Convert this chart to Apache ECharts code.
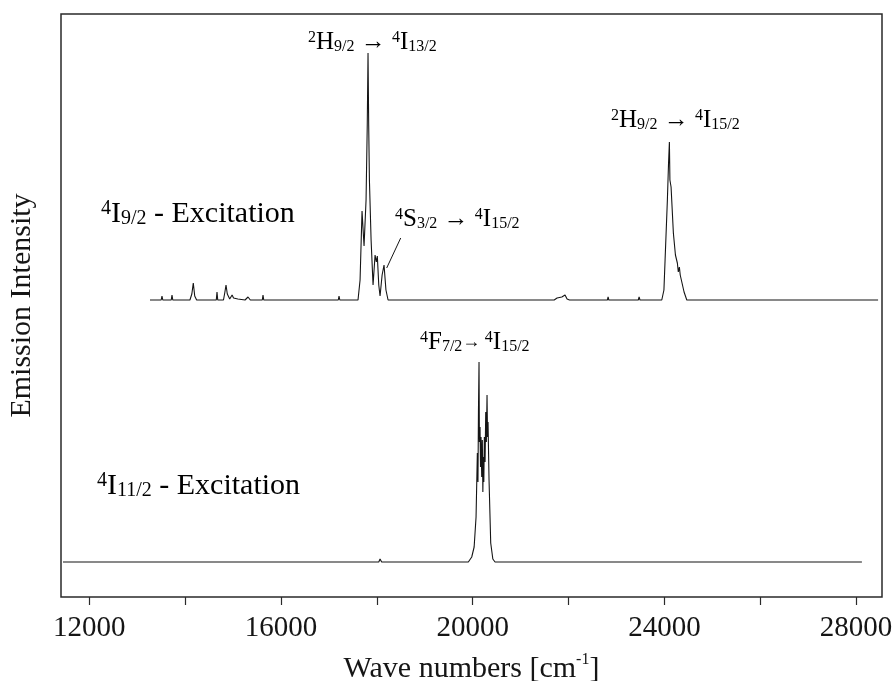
<!DOCTYPE html>
<html>
<head>
<meta charset="utf-8">
<script src="https://cdn.jsdelivr.net/npm/echarts@6/dist/echarts.min.js"></script>
<style>
  html, body { margin: 0; padding: 0; background: #fff; }
  #chart { width: 895px; height: 681px; }
</style>
</head>
<body>
<div id="chart"></div>
<script>
// 上面一条：4I9/2 激发 (波数 cm-1, 相对基线的强度)
const upperWn = [13267, 13500, 13517, 13534, 13710, 13726, 13742, 14100, 14140, 14170, 14200, 14240,
  14650, 14665, 14680, 14800, 14830, 14853, 14880, 14930, 14980, 15010, 15040, 15100, 15250, 15312, 15360,
  15610, 15625, 15640, 17195, 17211, 17227, 17500, 17607, 17650, 17691, 17733, 17775, 17800, 17816, 17830,
  17845, 17880, 17921, 17963, 17990, 18010, 18040, 18067, 18110, 18150, 18190, 18234, 18420, 18441, 18460,
  21700, 21760, 21860, 21927, 21969, 22020, 22810, 22825, 22840, 23455, 23472, 23490, 23945, 23990, 24014,
  24062, 24085, 24104, 24115, 24139, 24187, 24230, 24270, 24290, 24312, 24330, 24362, 24410, 24467, 28458];
const upperInt = [0, 0, 4, 0, 0, 5, 0, 0, 6, 17, 4, 0,
  0, 8, 0, 0, 8, 15, 6, 1, 5, 2, 4, 1, 0, 3, 0,
  0, 5, 0, 0, 4, 0, 0, 0, 20, 89, 54, 100, 175, 247, 175,
  120, 60, 15, 45, 38, 44, 15, 4, 25, 35, 10, 0, 0, 2, 0,
  0, 2, 3, 5, 1, 0, 0, 3, 0, 0, 3, 0, 0, 10, 40,
  100, 135, 158, 120, 113, 67, 45, 37, 28, 33, 25, 23, 8, 0, 0];

// 下面一条：4I11/2 激发
const lowerWn = [11451, 14920, 14936, 14960, 17150, 17169, 17190, 18040, 18067, 18100, 19909, 19980, 20030,
  20070, 20097, 20110, 20120, 20132, 20140, 20153, 20163, 20174, 20188, 20201, 20212, 20222, 20232, 20243,
  20258, 20272, 20285, 20299, 20310, 20320, 20341, 20376, 20420, 20466, 28121];
const lowerInt = [0, 0, 1, 0, 0, 1, 0, 0, 3, 0, 0, 5, 15,
  45, 109, 80, 150, 200, 120, 135, 95, 125, 85, 122, 70, 105, 80, 125,
  100, 150, 120, 167, 125, 140, 82, 19, 3, 0, 0];

const xTicks = [12000, 14000, 16000, 18000, 20000, 22000, 24000, 26000, 28000];
const xLabels = [12000, 16000, 20000, 24000, 28000];

// 两条谱线的垂直偏移
const UPPER_BASE = 297;
const LOWER_BASE = 35;

const FONT = 'Liberation Serif';
const INK = '#151515';

const chart = echarts.init(document.getElementById('chart'));

// 上下标富文本样式
function richStyle(base, small) {
  return {
    b: { fontFamily: FONT, fontSize: base, lineHeight: base, color: INK, verticalAlign: 'middle' },
    s: { fontFamily: FONT, fontSize: small, lineHeight: small * 1.45, color: INK, verticalAlign: 'top' },
    d: { fontFamily: FONT, fontSize: small, lineHeight: small * 1.3, color: INK, verticalAlign: 'bottom' },
    a: { fontFamily: FONT, fontSize: small + 2, lineHeight: base, color: INK, verticalAlign: 'middle' }
  };
}

function label(left, top, text, base, small) {
  return {
    type: 'text',
    left: left,
    top: top,
    style: { text: text, rich: richStyle(base, small) }
  };
}

const option = {
  animation: false,
  backgroundColor: '#fff',
  grid: {
    left: 61, right: 13, top: 14, bottom: 84,
    outerBoundsMode: 'none',
    show: true,
    borderColor: '#2a2a2a',
    borderWidth: 1.5
  },
  xAxis: {
    type: 'value',
    min: 11410,
    max: 28540,
    name: '{n|Wave numbers [cm}{u|-1}{n|]}',
    nameLocation: 'middle',
    nameGap: 55,
    nameTextStyle: {
      rich: {
        n: { fontFamily: FONT, fontSize: 30, color: INK, verticalAlign: 'bottom', lineHeight: 32 },
        u: { fontFamily: FONT, fontSize: 16, color: INK, verticalAlign: 'top', lineHeight: 24 }
      }
    },
    axisLine: { show: false },
    splitLine: { show: false },
    axisTick: {
      show: true,
      customValues: xTicks,
      length: 8,
      lineStyle: { color: '#2a2a2a', width: 1.2 }
    },
    axisLabel: {
      customValues: xLabels,
      formatter: (v) => String(v),
      fontFamily: FONT,
      fontSize: 29,
      color: INK,
      margin: 17
    }
  },
  yAxis: {
    type: 'value',
    min: 0,
    max: 583,
    name: 'Emission Intensity',
    nameLocation: 'middle',
    nameRotate: 90,
    nameGap: 24,
    nameTextStyle: { fontFamily: FONT, fontSize: 30, color: INK },
    axisLine: { show: false },
    axisTick: { show: false },
    axisLabel: { show: false },
    splitLine: { show: false }
  },
  series: [
    {
      name: '4I9/2',
      type: 'line',
      showSymbol: false,
      symbol: 'none',
      lineStyle: { color: INK, width: 1.1 },
      data: upperWn.map((w, i) => [w, upperInt[i] + UPPER_BASE])
    },
    {
      name: '4I11/2',
      type: 'line',
      showSymbol: false,
      symbol: 'none',
      lineStyle: { color: INK, width: 1.1 },
      data: lowerWn.map((w, i) => [w, lowerInt[i] + LOWER_BASE])
    }
  ],
  graphic: [
    label(308, 30, '{s|2}{b|H}{d|9/2}{b| → }{s|4}{b|I}{d|13/2}', 25, 16),
    label(611, 108, '{s|2}{b|H}{d|9/2}{b| → }{s|4}{b|I}{d|15/2}', 25, 16),
    label(395, 207, '{s|4}{b|S}{d|3/2}{b| → }{s|4}{b|I}{d|15/2}', 25, 16),
    label(420, 330, '{s|4}{b|F}{d|7/2}{a|→ }{s|4}{b|I}{d|15/2}', 25, 16),
    label(101, 199, '{s|4}{b|I}{d|9/2}{b| - Excitation}', 30, 20),
    label(97, 471, '{s|4}{b|I}{d|11/2}{b| - Excitation}', 30, 20),
    {
      type: 'line',
      shape: { x1: 400.7, y1: 238, x2: 386.7, y2: 268 },
      style: { stroke: INK, lineWidth: 1 }
    }
  ]
};

chart.setOption(option);
</script>
</body>
</html>
